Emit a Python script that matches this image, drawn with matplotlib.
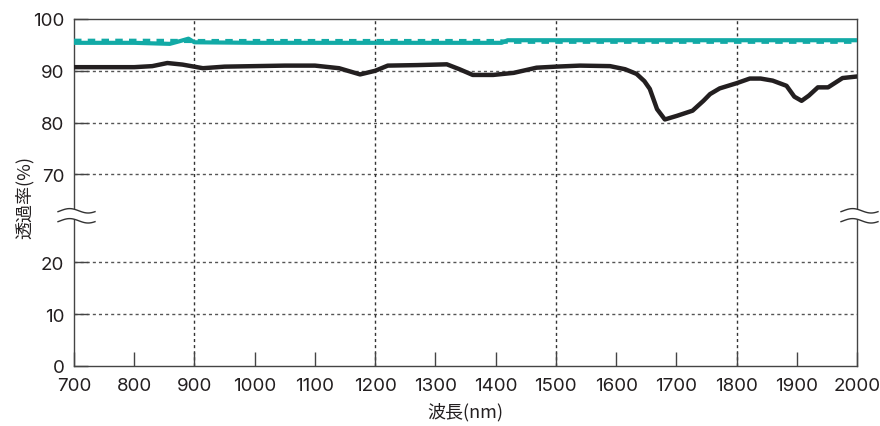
import numpy as np
import matplotlib
matplotlib.use("Agg")
import matplotlib.pyplot as plt
from matplotlib.lines import Line2D
from matplotlib.patches import Polygon

plt.rcParams['font.family'] = ['Inter', 'Noto Sans CJK JP', 'DejaVu Sans']

# ---- data ----
black_nm = [700, 750, 800, 830, 855, 880, 914, 950, 1000, 1050, 1100, 1140, 1175, 1200, 1221,
            1270, 1319, 1340, 1362, 1396, 1430, 1468, 1500, 1540, 1590, 1615, 1634, 1647, 1656, 1668,
            1681, 1701, 1727, 1745, 1756, 1772, 1800, 1822, 1840, 1860, 1883, 1896, 1908, 1920,
            1935, 1952, 1976, 2000]
black_val = [90.7, 90.7, 90.7, 90.9, 91.5, 91.2, 90.5, 90.8, 90.9, 91.0, 91.0, 90.5, 89.3, 90.0, 91.0,
             91.1, 91.25, 90.3, 89.2, 89.2, 89.6, 90.6, 90.8, 91.0, 90.9, 90.3, 89.4, 88.0, 86.5, 82.6,
             80.6, 81.3, 82.3, 84.2, 85.5, 86.6, 87.6, 88.5, 88.5, 88.1, 87.1, 85.0, 84.2, 85.2,
             86.8, 86.8, 88.6, 88.9]

teal_nm = [700, 800, 859, 875, 890, 900, 1000, 1200, 1400, 1410, 1420, 1600, 1800, 2000]
teal_val = [95.4, 95.4, 95.2, 95.7, 96.2, 95.5, 95.4, 95.4, 95.4, 95.4, 95.9, 95.9, 95.9, 95.9]

teal_dash_nm = [700, 800, 900, 1000, 1200, 1400, 1420, 1600, 1800, 2000]
teal_dash_val = [95.8, 95.8, 95.75, 95.75, 95.75, 95.75, 95.6, 95.6, 95.6, 95.6]

xticks = list(range(700, 2001, 100))
yticks = [0, 10, 20, 70, 80, 90, 100]
ygrid = [10, 20, 70, 80, 90]
xgrid = [900, 1200, 1500, 1800]

# ---- broken y scale ----
def fwd(v):
    v = np.asarray(v, dtype=float)
    return np.where(v <= 20, v, np.where(v >= 70, v - 33, 20 + (v - 20) * 0.34))

def inv(d):
    d = np.asarray(d, dtype=float)
    return np.where(d <= 20, d, np.where(d >= 37, d + 33, 20 + (d - 20) / 0.34))

W, H = 880, 427
fig = plt.figure(figsize=(W / 100, H / 100), dpi=100)
L, R, T, B = 74, 857, 20, 367
ax = fig.add_axes([L / W, (H - B) / H, (R - L) / W, (B - T) / H])
ax.set_yscale('function', functions=(fwd, inv))
ax.set_xlim(700, 2000)
ax.set_ylim(0, 100)

for g in ygrid:
    ax.axhline(g, color='#555555', lw=1.0, ls=(0, (2.2, 2.2)), zorder=1)
for g in xgrid:
    ax.axvline(g, color='#333333', lw=1.0, ls=(0, (2.2, 2.2)), zorder=1)

ax.plot(teal_nm, teal_val, color='#12aaa6', lw=3.0, zorder=3, solid_capstyle='butt')
ax.plot(teal_dash_nm, teal_dash_val, color='#12aaa6', lw=3.0, ls=(0, (1.8, 1.5)), zorder=3)
ax.plot(black_nm, black_val, color='#231f20', lw=3.2, zorder=4, solid_joinstyle='round')

ax.set_xticks(xticks)
ax.set_yticks(yticks)
ax.set_yticklabels([str(t) for t in yticks])
ax.minorticks_off()
ax.tick_params(axis='both', direction='in', length=10, width=1.0, color='#444444',
               labelsize=13.5, labelcolor='#231f20')
ax.tick_params(axis='x', pad=8)
ax.tick_params(axis='y', pad=7)
for s in ax.spines.values():
    s.set_color('#444444')
    s.set_linewidth(1.0)

ax.set_xlabel('波長(nm)', family=['Noto Sans CJK JP'], fontsize=13, color='#231f20',
              va='center', ha='center')
ax.set_ylabel('透過率(%)', family=['Noto Sans CJK JP'], fontsize=13, color='#231f20',
              va='center', ha='center')
ax.xaxis.set_label_coords(0.5, (B - 412) / (B - T))
ax.yaxis.set_label_coords((25 - L) / (R - L), (B - 197.5) / (B - T))

# ---- break marks ----
vb = float(inv(29.0))
yc = float(fwd(vb)) / 67.0
pxw = 1.0 / (R - L)
pxh = 1.0 / (B - T)
for xa in (0.0, 1.0):
    xs_px = np.linspace(-16, 21, 60)
    xs = xa + xs_px * pxw
    wave = 2.2 * np.sin(2 * np.pi * (xs_px + 16) / 37.0 * 1.0 - 0.4)
    y1 = yc + (5 + wave) * pxh
    y2 = yc + (-5 + wave) * pxh
    poly = np.column_stack([np.concatenate([xs, xs[::-1]]), np.concatenate([y1, y2[::-1]])])
    ax.add_patch(Polygon(poly, closed=True, facecolor='white', edgecolor='none',
                         transform=ax.transAxes, clip_on=False, zorder=5))
    for yy in (y1, y2):
        ax.add_line(Line2D(xs, yy, color='#333333', lw=1.0, transform=ax.transAxes,
                           clip_on=False, zorder=6))

fig.savefig('out.png', dpi=100)
